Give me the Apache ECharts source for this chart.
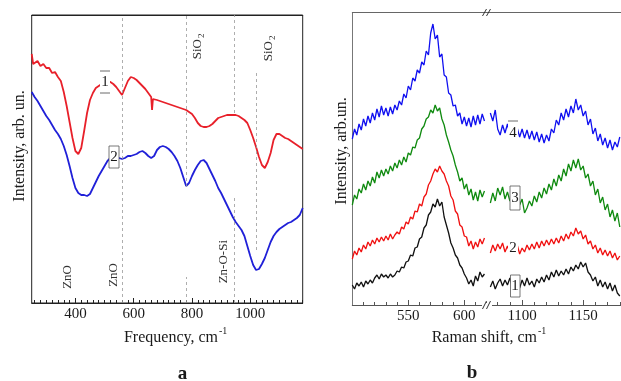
<!DOCTYPE html>
<html><head><meta charset="utf-8">
<script src="https://cdn.jsdelivr.net/npm/echarts@6/dist/echarts.min.js"></script>
<style>html,body{margin:0;padding:0;background:#fff}#c{width:621px;height:381px}</style>
</head><body><div id="c"></div>
<script>
// ---------- Panel a: FTIR ----------
const freqA = [250,255,260,270,280,290,300,310,320,330,340,350,360,370,380,390,400,410,420,430,440,450,460,470,480,490,500,510,520,530,540,550,560,570,580,590,600,610,620,630,640,650,660,663,666,670,680,690,700,710,720,730,740,750,760,770,780,790,800,810,820,830,840,850,860,870,880,890,900,910,920,930,940,950,960,970,980,990,1000,1010,1020,1030,1040,1050,1060,1070,1080,1090,1100,1110,1120,1130,1140,1150,1160,1170,1180];
const ftirRed = [249,239,241,242,237,239,235,235,230,231,226,222,211,197,181,165,152,149,155,172,190,203,210,215,217,219,220,221,221,219,216,212,208,215,222,226,225,223,220,217,214,210,206,193,204,204,203,202,201,200,199,198,197,196,195,194,193,191,189,185,180,177,176,176,177,179,182,185,186,187,188,188,188,188,187,185,183,180,173,165,156,146,138,135,141,150,163,169,169,167,165,164,162,160,158,156,154];
const ftirBlue = [211,209,206,202,197,192,187,183,178,173,169,164,157,148,137,125,115,110,108,108,107,109,115,121,127,132,137,142,145,145,145,145,144,145,147,147,148,149,151,152,150,147,145,144,145,147,153,156,157,156,154,151,147,142,135,126,117,120,127,133,138,142,143,140,134,128,122,115,110,104,98,92,86,81,77,73,67,57,47,38,33,34,39,45,53,61,67,71,74,76,78,80,81,83,85,88,95];
// dashed guide lines: [frequency, from, to]
const guideLines = [[561,0,288],[782,116,288],[782,0,26],[945,190,288],[945,0,105],[1022,53,231]];
const ticksA = [400,600,800,1000];

// ---------- Panel b: Raman ----------
const ramanXL = [500,502,504,506,508,510,512,514,516,518,520,522,524,526,528,530,532,534,536,538,540,542,544,546,548,550,552,554,556,558,560,562,564,566,568,570,572,574,576,578,580,582,584,586,588,590,592,594,596,598,600,602,604,606,608,610,612,614,616,618];
const ramanXR = [1074,1076,1078,1080,1082,1084,1086,1088,1090,1092,1094,1096,1098,1100,1102,1104,1106,1108,1110,1112,1114,1116,1118,1120,1122,1124,1126,1128,1130,1132,1134,1136,1138,1140,1142,1144,1146,1148,1150,1152,1154,1156,1158,1160,1162,1164,1166,1168,1170,1172,1174,1176,1178,1180];
const raman1L = [20,16,22,19,23,18,24,21,25,22,27,30,26,31,28,30,27,31,28,30,34,33,38,37,43,44,50,49,57,58,66,68,77,80,90,93,101,98,106,99,103,88,80,72,62,57,50,47,40,37,31,27,21,25,19,29,24,33,28,31];
const raman1R = [18,24,16,22,26,19,25,20,27,18,24,21,17,25,19,27,20,24,18,26,22,28,23,30,25,33,28,35,29,34,30,36,31,38,34,40,36,43,38,42,33,30,24,28,19,25,18,23,16,22,14,20,12,9];
const raman2L = [46,54,50,57,53,60,56,63,59,65,61,67,63,68,64,69,65,71,66,70,73,71,78,76,83,81,88,86,94,93,101,99,108,111,120,124,131,136,133,139,134,131,124,119,109,105,94,91,80,78,69,68,59,64,56,63,58,66,61,67];
const raman2R = [52,60,54,61,56,62,53,59,52,58,54,60,51,57,53,60,55,61,56,63,57,64,59,65,60,66,61,67,62,69,64,71,66,73,69,77,71,74,66,70,61,64,56,60,52,57,50,55,49,54,47,52,45,49];
const raman3L = [100,110,106,116,112,121,115,124,119,128,122,133,127,135,129,136,131,139,134,142,137,145,140,148,143,152,150,158,157,165,167,176,179,186,188,195,192,200,194,197,186,180,170,163,155,149,140,133,124,127,116,121,110,116,105,113,104,115,108,114];
const raman3R = [102,112,104,117,110,118,106,113,104,111,103,109,100,106,92,97,104,99,109,103,113,107,117,111,121,115,126,119,130,124,136,129,141,134,145,137,146,135,139,127,131,119,124,110,116,102,108,95,101,88,95,84,92,78];
const raman4L = [166,176,170,181,175,186,179,189,182,192,185,196,188,199,190,197,189,198,191,200,195,204,200,211,207,219,215,227,224,235,232,243,240,254,250,272,281,266,270,248,251,230,228,212,210,199,200,189,192,181,188,179,187,178,189,180,190,181,191,184];
const raman4R = [192,184,195,176,170,180,172,181,171,178,169,177,168,176,167,175,166,174,165,173,163,171,162,170,164,176,172,185,180,192,185,196,188,199,192,206,195,200,189,194,180,186,171,177,164,171,160,167,157,165,155,163,158,168];
const ticksB1 = [550,600];
const ticksB2 = [1100,1150];

const FONT = '"Liberation Serif", "Times New Roman", serif';
const pairs = (xs, ys) => xs.map((x, i) => [x, ys[i]]);
const range = (a, b, s) => { const r = []; for (let v = a; v <= b; v += s) r.push(v); return r; };

const chart = echarts.init(document.getElementById('c'), null, {renderer: 'canvas'});

const labelStyle = {fontSize: 15, fontFamily: FONT, color: '#1a1a1a', margin: 4, formatter: v => String(v)};
function bottomAxis(grid, min, max, minorVals, majorVals, labels, lineColor) {
  return [
    {type: 'value', gridIndex: grid, position: 'bottom', min, max,
     axisLine: {show: true, onZero: false, lineStyle: {color: lineColor, width: 1}},
     axisTick: {show: true, inside: true, length: 3, customValues: minorVals, lineStyle: {color: lineColor}},
     axisLabel: Object.assign({show: true, customValues: labels}, labelStyle),
     splitLine: {show: false}},
    {type: 'value', gridIndex: grid, position: 'bottom', min, max,
     axisLine: {show: false, onZero: false},
     axisTick: {show: true, inside: true, length: 5, customValues: majorVals, lineStyle: {color: lineColor}},
     axisLabel: {show: false}, splitLine: {show: false}}
  ];
}
function topLine(grid, min, max, color) {
  return {type: 'value', gridIndex: grid, position: 'top', min, max,
    axisLine: {show: true, onZero: false, lineStyle: {color, width: 1}},
    axisTick: {show: false}, axisLabel: {show: false}, splitLine: {show: false}};
}

const xAxes = [].concat(
  bottomAxis(0, 250, 1180, range(260, 1180, 20), ticksA, ticksA, '#222'),
  [topLine(0, 250, 1180, '#222')],
  bottomAxis(1, 500, 620, range(510, 620, 10), ticksB1, ticksB1, '#555'),
  [topLine(1, 500, 620, '#666')],
  bottomAxis(2, 1071, 1181, range(1080, 1180, 10), ticksB2, ticksB2, '#555'),
  [topLine(2, 1071, 1181, '#666')]
);

const hiddenY = (grid, max, showLine, color) => ({type: 'value', gridIndex: grid, min: 0, max,
  axisLine: {show: showLine, onZero: false, lineStyle: {color: color || '#222'}},
  axisTick: {show: false}, axisLabel: {show: false}, splitLine: {show: false}});

function lineSeries(xi, yi, data, color, width) {
  return {type: 'line', xAxisIndex: xi, yAxisIndex: yi, data, symbol: 'none', showSymbol: false,
    lineStyle: {color, width}, silent: true, animation: false, z: 3};
}

const redSeries = lineSeries(0, 0, pairs(freqA, ftirRed), '#e8202a', 1.8);
redSeries.markLine = {symbol: 'none', silent: true, animation: false,
  lineStyle: {type: [3, 3], color: '#999', width: 0.8}, label: {show: false},
  data: guideLines.map(g => [{coord: [g[0], g[1]]}, {coord: [g[0], g[2]]}])};

const series = [
  redSeries,
  lineSeries(0, 0, pairs(freqA, ftirBlue), '#2020d8', 1.8),
  lineSeries(3, 1, pairs(ramanXL, raman1L), '#111', 1.3),
  lineSeries(3, 1, pairs(ramanXL, raman2L), '#f01010', 1.3),
  lineSeries(3, 1, pairs(ramanXL, raman3L), '#0f8a0f', 1.3),
  lineSeries(3, 1, pairs(ramanXL, raman4L), '#1010f0', 1.3),
  lineSeries(6, 2, pairs(ramanXR, raman1R), '#111', 1.3),
  lineSeries(6, 2, pairs(ramanXR, raman2R), '#f01010', 1.3),
  lineSeries(6, 2, pairs(ramanXR, raman3R), '#0f8a0f', 1.3),
  lineSeries(6, 2, pairs(ramanXR, raman4R), '#1010f0', 1.3)
];

function T(x, y, text, size, opt) {
  opt = opt || {};
  return {type: 'text', x, y, rotation: opt.rot || 0, z: 100,
    style: {text, font: (opt.bold ? 'bold ' : '') + size + 'px ' + FONT, fill: opt.fill || '#1a1a1a',
      textAlign: opt.align || 'center', textVerticalAlign: opt.valign || 'middle'}};
}
// rotated annotation; (x, y) = top end of the base text
function rotGroup(x, y, base, sub, size) {
  return {type: 'group', x, y, rotation: Math.PI / 2, z: 100, children: [
    {type: 'text', x: 0, y: 0, style: {text: base, font: size + 'px ' + FONT, fill: '#333', textAlign: 'right', textVerticalAlign: 'middle'}},
    sub ? {type: 'text', x: 1, y: 4, style: {text: sub, font: (size - 4) + 'px ' + FONT, fill: '#333', textAlign: 'left', textVerticalAlign: 'middle'}} : null
  ].filter(Boolean)};
}
const R = (x, y, w, h, stroke) => ({type: 'rect', z: 90, shape: {x, y, width: w, height: h},
  style: {fill: '#fff', stroke: stroke || null, lineWidth: 0.8}});
const L = (x1, y1, x2, y2, color, w) => ({type: 'line', z: 95, shape: {x1, y1, x2, y2},
  style: {stroke: color || '#333', lineWidth: w || 1}});

const graphic = [
  // axis titles
  T(19.5, 146, 'Intensity, arb. un.', 16, {rot: Math.PI / 2}),
  T(342, 151, 'Intensity, arb.un.', 16, {rot: Math.PI / 2}),
  T(218, 338, 'Frequency, cm', 16, {align: 'right'}),
  T(219, 331, '-1', 10, {align: 'left'}),
  T(537, 338, 'Raman shift, cm', 16, {align: 'right'}),
  T(538, 331, '-1', 10, {align: 'left'}),
  T(182.5, 374, 'a', 19, {bold: true}),
  T(472, 373, 'b', 19, {bold: true}),
  // band annotations (panel a)
  rotGroup(68, 265, 'ZnO', 0, 13),
  rotGroup(114, 263, 'ZnO', 0, 13),
  rotGroup(198, 39, 'SiO', '2', 13),
  rotGroup(269, 41, 'SiO', '2', 13),
  rotGroup(224, 240, 'Zn-O-Si', 0, 13),
  // curve labels (panel a)
  R(100, 71, 10, 22), L(100, 71, 110, 71, '#444', 0.8), L(100, 93, 110, 93, '#444', 0.8),
  T(105, 82, '1', 15),
  R(109, 146, 10, 22, '#555'), T(114, 157, '2', 15),
  // curve labels (panel b)
  R(508, 121, 10, 24), L(508, 121, 518, 121, '#444', 0.8), T(513, 133, '4', 15),
  R(510, 186, 10, 24, '#555'), T(515, 198, '3', 15),
  R(508, 238, 10, 20), T(513, 248, '2', 15),
  R(510.5, 275, 9.5, 22, '#555'), T(515, 286, '1', 15),
  // axis break marks
  R(482, 303, 10, 4),
  L(482.5, 16, 486.5, 9, '#333', 1), L(486.5, 16, 490.5, 9, '#333', 1),
  L(482.5, 309, 486.5, 301, '#333', 1), L(486.5, 309, 490.5, 301, '#333', 1)
];

chart.setOption({
  animation: false,
  backgroundColor: '#fff',
  grid: [
    {left: 31.7, top: 15, width: 271, height: 288, show: true, borderColor: '#222', borderWidth: 1, backgroundColor: 'transparent'},
    {left: 352.3, top: 12.5, width: 134.4, height: 292.5},
    {left: 486.7, top: 12.5, width: 134.3, height: 292.5}
  ],
  xAxis: xAxes,
  yAxis: [hiddenY(0, 288, false), hiddenY(1, 292.5, true, '#777'), hiddenY(2, 292.5, false)],
  series,
  graphic
});
</script></body></html>
